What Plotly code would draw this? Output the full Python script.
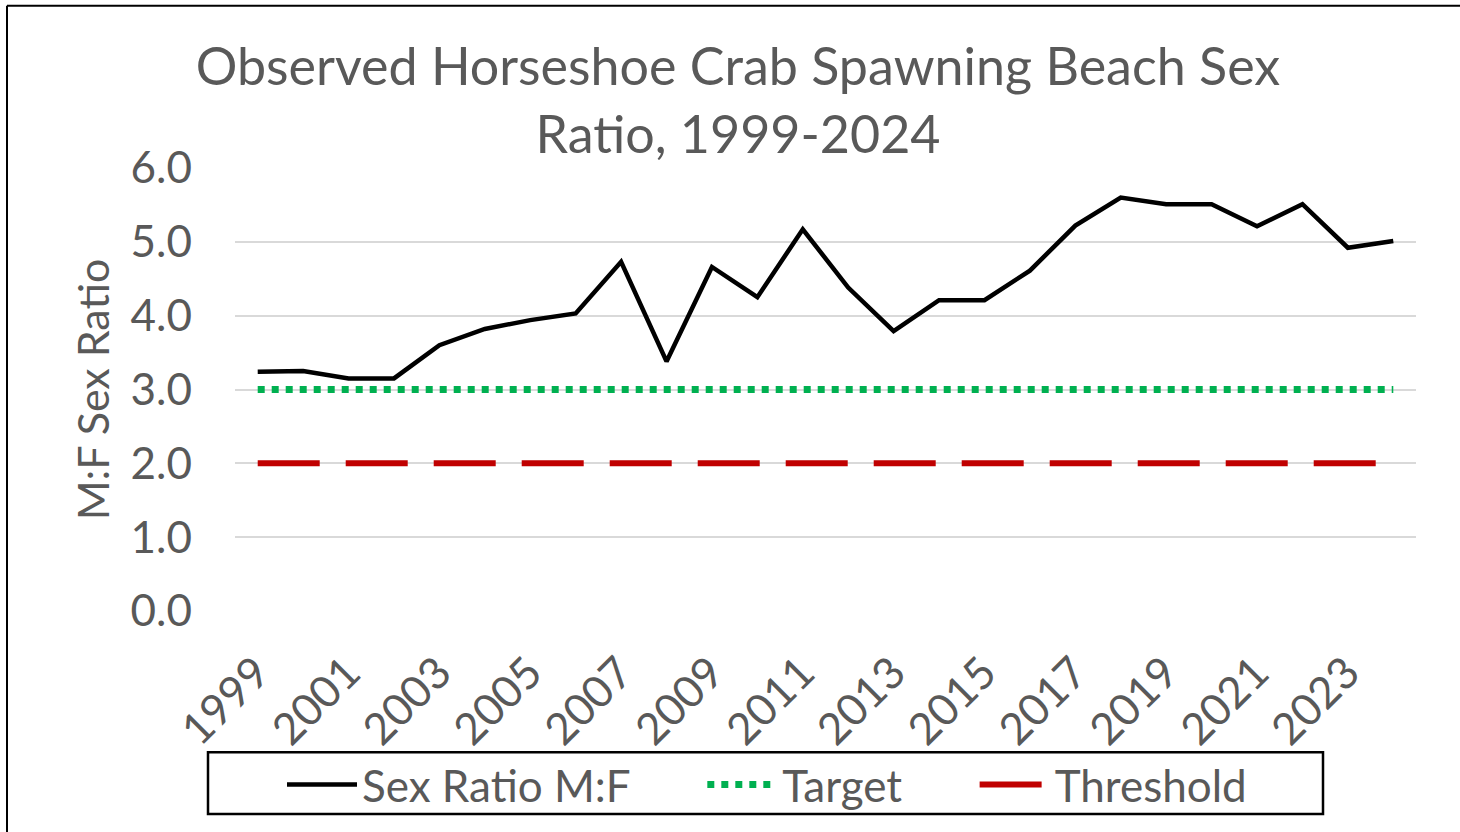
import plotly.graph_objects as go

years = [str(y) for y in range(1999, 2025)]
sex_ratio = [3.24, 3.25, 3.15, 3.15, 3.60, 3.82, 3.94, 4.03, 4.73, 3.38,
             4.66, 4.25, 5.17, 4.38, 3.79, 4.21, 4.21, 4.61, 5.22, 5.60,
             5.51, 5.51, 5.21, 5.51, 4.92, 5.01]
target = [3.0] * 26
threshold = [2.0] * 26
tick_years = [str(y) for y in range(1999, 2025, 2)]

FONT = "Lato"
GREY = "#595959"
NB = "\u00a0"

fig = go.Figure()
fig.add_trace(go.Scatter(x=years, y=sex_ratio, mode="lines", name="Sex Ratio M:F" + NB * 6,
                         line=dict(color="black", width=4.5)))
fig.add_trace(go.Scatter(x=years, y=target, mode="lines", name="Target" + NB * 6,
                         line=dict(color="#00B050", width=7, dash="dot")))
fig.add_trace(go.Scatter(x=years, y=threshold, mode="lines", name="Threshold",
                         line=dict(color="#C00000", width=6, dash="62px,26px")))

def px_x(p):
    return (p - 235) / 1181

def px_y(p):
    return (613 - p) / 445

fig.update_layout(
    width=1460, height=832,
    margin=dict(l=235, r=44, t=168, b=219),
    paper_bgcolor="white", plot_bgcolor="white",
    font=dict(family=FONT, color=GREY, size=44),
    title=dict(text="Observed Horseshoe Crab Spawning Beach Sex<br>Ratio, 1999-2024",
               x=738/1460, xanchor="center", xref="container",
               y=1 - 85/832, yanchor="top", yref="container",
               font=dict(family=FONT, size=52, color=GREY)),
    showlegend=True,
    legend=dict(orientation="h", x=px_x(282), xanchor="left", y=px_y(752), yanchor="top",
                borderwidth=0, bgcolor="rgba(0,0,0,0)",
                font=dict(family=FONT, size=44, color=GREY),
                itemwidth=70),
    xaxis=dict(type="category", range=[-0.5, 25.5], tickmode="array",
               tickvals=tick_years, ticktext=tick_years,
               tickangle=-45, showgrid=False, showline=False, zeroline=False,
               ticks="", ticklabelstandoff=26, ticklabelshift=-1, automargin=False,
               tickfont=dict(family=FONT, size=44, color=GREY)),
    yaxis=dict(range=[0, 6], dtick=1, tickformat=".1f", showgrid=True,
               gridcolor="#D9D9D9", gridwidth=1.5, zeroline=False, showline=False,
               ticks="", ticklabelstandoff=42, automargin=False,
               tickfont=dict(family=FONT, size=44, color=GREY),
               title=dict(text="M:F Sex Ratio", standoff=7,
                          font=dict(family=FONT, size=43, color=GREY))),
    shapes=[
        dict(type="line", xref="paper", yref="paper", x0=px_x(7), x1=px_x(7),
             y0=px_y(5), y1=px_y(900), line=dict(color="black", width=2)),
        dict(type="line", xref="paper", yref="paper", x0=px_x(7), x1=px_x(1500),
             y0=px_y(5), y1=px_y(5), line=dict(color="black", width=2)),
        dict(type="rect", xref="paper", yref="paper", x0=px_x(208), x1=px_x(1323),
             y0=px_y(817), y1=px_y(755), line=dict(color="black", width=2.5)),
    ],
)

fig.write_html("out.html", config={"displayModeBar": False},
               post_script="document.body.style.margin='0';document.body.style.overflow='hidden';")
